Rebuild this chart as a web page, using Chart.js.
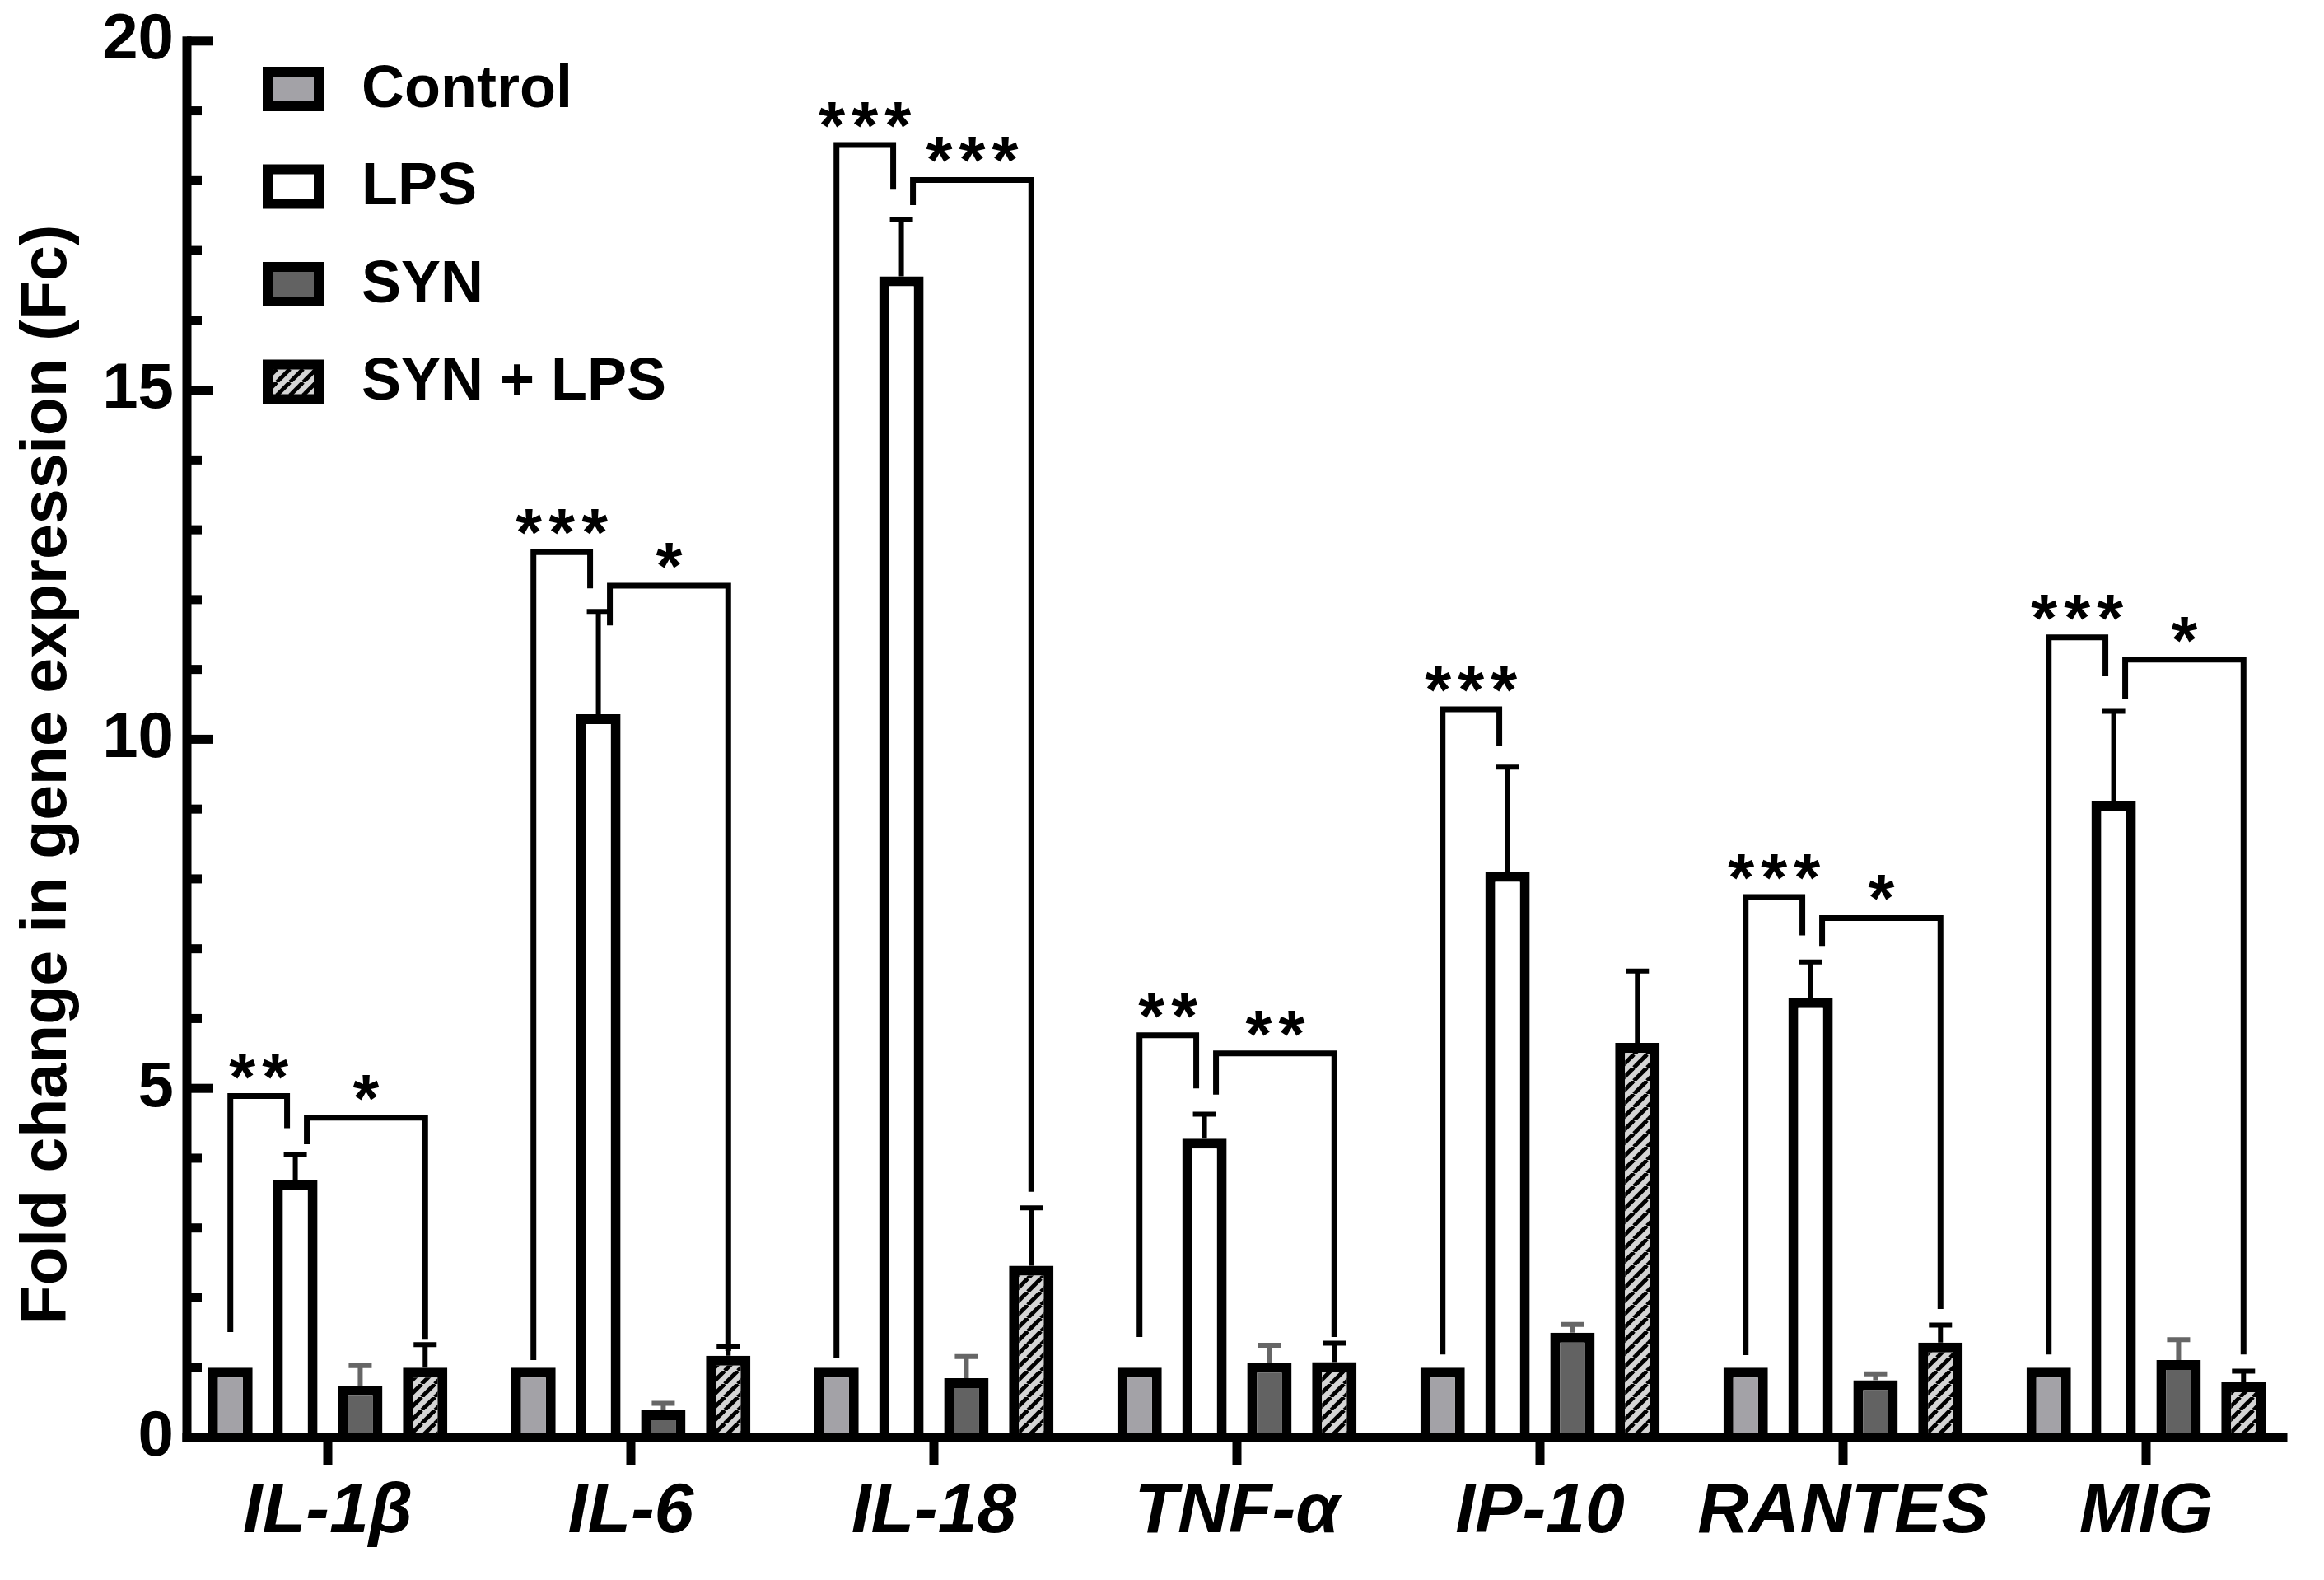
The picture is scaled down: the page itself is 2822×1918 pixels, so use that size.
<!DOCTYPE html>
<html>
<head>
<meta charset="utf-8">
<title>Fold change in gene expression</title>
<script src="https://cdn.jsdelivr.net/npm/chart.js@4.4.1/dist/chart.umd.min.js"></script>
<style>
  html, body { margin: 0; padding: 0; background: #fff; }
  canvas { display: block; }
</style>
</head>
<body>
<canvas id="geneChart" width="2822" height="1918" style="width:2822px;height:1918px"></canvas>
<script>
// categories and series
const categories = ['IL-1β', 'IL-6', 'IL-18', 'TNF-α', 'IP-10', 'RANTES', 'MIG'];
const seriesNames = ['Control', 'LPS', 'SYN', 'SYN + LPS'];

const control    = [1, 1, 1, 1, 1, 1, 1];
const controlErr = [0, 0, 0, 0, 0, 0, 0];
const lps        = [3.69, 10.36, 16.63, 4.28, 8.10, 6.29, 9.12];
const lpsErr     = [0.36, 1.47, 0.82, 0.35, 1.50, 0.52, 1.28];
const syn        = [0.74, 0.39, 0.85, 1.07, 1.50, 0.82, 1.11];
const synErr     = [0.29, 0.10, 0.31, 0.25, 0.12, 0.09, 0.29];
const synLps     = [1.00, 1.17, 2.46, 1.08, 5.65, 1.36, 0.79];
const synLpsErr  = [0.33, 0.13, 0.83, 0.27, 1.03, 0.25, 0.16];

const yTicks = [0, 5, 10, 15, 20];

// significance brackets: group, from series, to series, top, end of left leg, end of right leg, label
const brGroup    = [0, 0, 1, 1, 2, 2, 3, 3, 4, 5, 5, 6, 6];
const brFrom     = [0, 1, 0, 1, 0, 1, 0, 1, 0, 0, 1, 0, 1];
const brTo       = [1, 3, 1, 3, 1, 3, 1, 3, 1, 1, 3, 1, 3];
const brTop      = [4.89, 4.58, 12.68, 12.20, 18.51, 18.01, 5.76, 5.50, 10.43, 7.74, 7.44, 11.46, 11.14];
const brLeftEnd  = [1.51, 4.20, 1.11, 11.63, 1.14, 17.65, 1.44, 4.91, 1.19, 1.18, 7.04, 1.19, 10.57];
const brRightEnd = [4.43, 1.40, 12.16, 1.24, 17.87, 3.52, 5.00, 1.44, 9.90, 7.19, 1.84, 10.90, 1.19];
const brLabel    = ['**', '*', '***', '*', '***', '***', '**', '**', '***', '***', '*', '***', '*'];

const FONT = "'Liberation Sans', Arial, Helvetica, sans-serif";

function hatch() {
    const c = document.createElement('canvas');
    c.width = 16; c.height = 16;
    const g = c.getContext('2d');
    g.fillStyle = '#d4d4d4';
    g.fillRect(0, 0, 16, 16);
    g.strokeStyle = '#000000';
    g.lineWidth = 5;
    for (const o of [-16, 0, 16]) {
        g.beginPath(); g.moveTo(o, 16); g.lineTo(o + 16, 0); g.stroke();
    }
    return g.createPattern(c, 'repeat');
}

const hatchFill = hatch();
const fills = ['#a3a2a7', '#ffffff', '#626262', hatchFill];
const errColors = ['#000000', '#000000', '#666666', '#000000'];
const values = [control, lps, syn, synLps];
const errors = [controlErr, lpsErr, synErr, synLpsErr];

const decor = {
    id: 'decor',
    afterDatasetsDraw(chart) {
        const ctx = chart.ctx;
        const y = chart.scales.y;
        const x = chart.scales.x;
        const area = chart.chartArea;
        const axisX = area.left + 13;
        const y0 = y.getPixelForValue(0);
        const bar = (d, i) => chart.getDatasetMeta(d).data[i];

        ctx.save();
        // error bars (upper only)
        ctx.lineWidth = 6;
        for (let d = 0; d < values.length; d++) {
            for (let i = 0; i < categories.length; i++) {
                if (!errors[d][i]) continue;
                const b = bar(d, i);
                const yb = y.getPixelForValue(values[d][i]);
                const yt = y.getPixelForValue(values[d][i] + errors[d][i]);
                ctx.strokeStyle = errColors[d];
                ctx.beginPath();
                ctx.moveTo(b.x, yb); ctx.lineTo(b.x, yt);
                ctx.moveTo(b.x - 14, yt); ctx.lineTo(b.x + 14, yt);
                ctx.stroke();
            }
        }

        // brackets and stars
        ctx.strokeStyle = '#000';
        ctx.fillStyle = '#000';
        ctx.lineWidth = 7;
        ctx.lineJoin = 'miter';
        ctx.lineCap = 'butt';
        ctx.font = 'bold 82px ' + FONT;
        ctx.textAlign = 'center';
        ctx.textBaseline = 'alphabetic';
        for (let k = 0; k < brGroup.length; k++) {
            const g = brGroup[k];
            let xl = bar(brFrom[k], g).x;
            let xr = bar(brTo[k], g).x;
            if (brFrom[k] === 1) xl += 14;
            if (brTo[k] === 1) xr -= 10;
            const yt = y.getPixelForValue(brTop[k]);
            ctx.beginPath();
            ctx.moveTo(xl, y.getPixelForValue(brLeftEnd[k]));
            ctx.lineTo(xl, yt);
            ctx.lineTo(xr, yt);
            ctx.lineTo(xr, y.getPixelForValue(brRightEnd[k]));
            ctx.stroke();
            const n = brLabel[k].length;
            const mid = (xl + xr) / 2;
            for (let s = 0; s < n; s++) {
                ctx.fillText('*', mid + (s - (n - 1) / 2) * 40, yt + 4);
            }
        }

        // axes
        ctx.fillRect(axisX - 5.5, y.getPixelForValue(20) - 5.5, 11, y0 - y.getPixelForValue(20) + 11);
        ctx.fillRect(axisX - 5.5, y0 - 5.5, area.right - 7 - axisX, 11);
        for (let v = 0; v <= 20; v++) {
            const ty = y.getPixelForValue(v);
            ctx.fillRect(axisX, ty - 5.5, v % 5 === 0 ? 32 : 18, 11);
        }
        for (let i = 0; i < categories.length; i++) {
            const cx = x.getPixelForValue(i);
            ctx.fillRect(cx - 5.5, y0, 11, 33);
        }

        // category labels
        ctx.font = 'italic bold 86px ' + FONT;
        ctx.textBaseline = 'middle';
        for (let i = 0; i < categories.length; i++) {
            ctx.fillText(categories[i], x.getPixelForValue(i), 1836);
        }

        // y title
        ctx.save();
        ctx.translate(80, 940);
        ctx.rotate(-Math.PI / 2);
        ctx.font = 'bold 77px ' + FONT;
        ctx.textAlign = 'center';
        ctx.textBaseline = 'alphabetic';
        ctx.fillText('Fold change in gene expression (Fc)', 0, 0);
        ctx.restore();

        // legend
        ctx.font = 'bold 72px ' + FONT;
        ctx.textAlign = 'left';
        ctx.textBaseline = 'middle';
        for (let d = 0; d < seriesNames.length; d++) {
            const cy = 108 + d * 118.5;
            ctx.fillStyle = '#000';
            ctx.fillRect(319, cy - 27, 74, 54);
            ctx.fillStyle = fills[d];
            ctx.fillRect(331, cy - 15, 50, 30);
            ctx.fillStyle = '#000';
            ctx.fillText(seriesNames[d], 439, cy + 2);
        }
        ctx.restore();
    }
};

const ctx = document.getElementById('geneChart').getContext('2d');
new Chart(ctx, {
    type: 'bar',
    data: {
        labels: categories,
        datasets: seriesNames.map((name, d) => ({
            label: name,
            data: values[d],
            backgroundColor: fills[d],
            borderColor: '#000000',
            borderWidth: 12,
            borderSkipped: 'bottom',
            barPercentage: 0.685,
            categoryPercentage: 0.857
        }))
    },
    options: {
        responsive: false,
        devicePixelRatio: 1,
        animation: false,
        events: [],
        layout: { padding: { left: 0, right: 32, top: 45, bottom: 173 } },
        plugins: { legend: { display: false }, tooltip: { enabled: false }, title: { display: false } },
        scales: {
            x: {
                grid: { display: false, drawTicks: false },
                border: { display: false },
                ticks: { display: false },
                afterFit(s) { s.height = 0; }
            },
            y: {
                min: 0,
                max: 20,
                afterBuildTicks(s) { s.ticks = yTicks.map(v => ({ value: v })); },
                grid: { display: false, drawTicks: false },
                border: { display: false },
                ticks: { color: '#000', padding: 3, font: { family: FONT, size: 78, weight: 'bold' } },
                afterFit(s) { s.width = 214; }
            }
        }
    },
    plugins: [decor]
});
</script>
</body>
</html>
